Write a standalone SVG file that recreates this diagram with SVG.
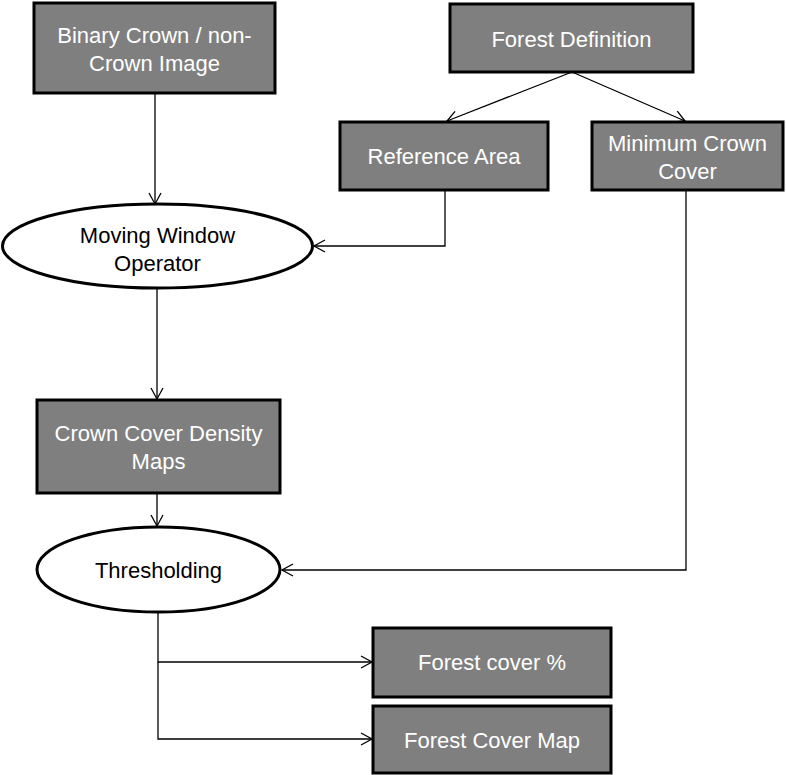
<svg xmlns="http://www.w3.org/2000/svg" width="786" height="775" viewBox="0 0 786 775">
<style>
.box{fill:#7f7f7f;stroke:#000;stroke-width:3}
.ell{fill:#fff;stroke:#000;stroke-width:3}
.wt{fill:#fff;font-family:"Liberation Sans",Arial,sans-serif;font-size:22px;text-anchor:middle}
.bt{fill:#000;font-family:"Liberation Sans",Arial,sans-serif;font-size:22px;text-anchor:middle}
.con{fill:none;stroke:#000;stroke-width:1.3;marker-end:url(#arr)}
</style>
<defs>
<marker id="arr" markerUnits="userSpaceOnUse" markerWidth="14" markerHeight="16" refX="12" refY="7" orient="auto">
<path d="M1,1 L12,7 L1,13" fill="none" stroke="#000" stroke-width="1.3"/>
</marker>
</defs>
<g id="connectors">
<path class="con" d="M155,93 L155,204"/>
<path class="con" d="M572,72 L447,121"/>
<path class="con" d="M572,72 L685,121"/>
<path class="con" d="M445,190 L445,246 L314,246"/>
<path class="con" d="M157,288 L157,399"/>
<path class="con" d="M157,493 L157,526"/>
<path class="con" d="M686,190 L686,570 L282,570"/>
<path class="con" d="M158,612 L158,662 L372,662"/>
<path class="con" d="M158,662 L158,739 L372,739"/>
</g>
<g id="binary">
<rect class="box" x="34" y="3" width="241" height="90"/>
<text class="wt" x="154.5" y="43">Binary Crown / non-</text>
<text class="wt" x="154.5" y="71">Crown Image</text>
</g>
<g id="forestdef">
<rect class="box" x="450" y="4" width="243" height="68"/>
<text class="wt" x="571.5" y="47">Forest Definition</text>
</g>
<g id="refarea">
<rect class="box" x="340" y="122" width="208" height="68"/>
<text class="wt" x="444" y="164">Reference Area</text>
</g>
<g id="mincrown">
<rect class="box" x="592" y="122" width="191" height="68"/>
<text class="wt" x="687.5" y="151">Minimum Crown</text>
<text class="wt" x="687.5" y="179">Cover</text>
</g>
<g id="moving">
<ellipse class="ell" cx="157.5" cy="246" rx="155" ry="42"/>
<text class="bt" x="157.5" y="243">Moving Window</text>
<text class="bt" x="157.5" y="271">Operator</text>
</g>
<g id="density">
<rect class="box" x="37" y="400" width="243" height="93"/>
<text class="wt" x="158.5" y="441">Crown Cover Density</text>
<text class="wt" x="158.5" y="469">Maps</text>
</g>
<g id="threshold">
<ellipse class="ell" cx="158.5" cy="569.5" rx="121.5" ry="42.5"/>
<text class="bt" x="158.5" y="578">Thresholding</text>
</g>
<g id="coverpct">
<rect class="box" x="373" y="628" width="238" height="69"/>
<text class="wt" x="492" y="670">Forest cover %</text>
</g>
<g id="covermap">
<rect class="box" x="373" y="706" width="238" height="67"/>
<text class="wt" x="492" y="748">Forest Cover Map</text>
</g>
</svg>
